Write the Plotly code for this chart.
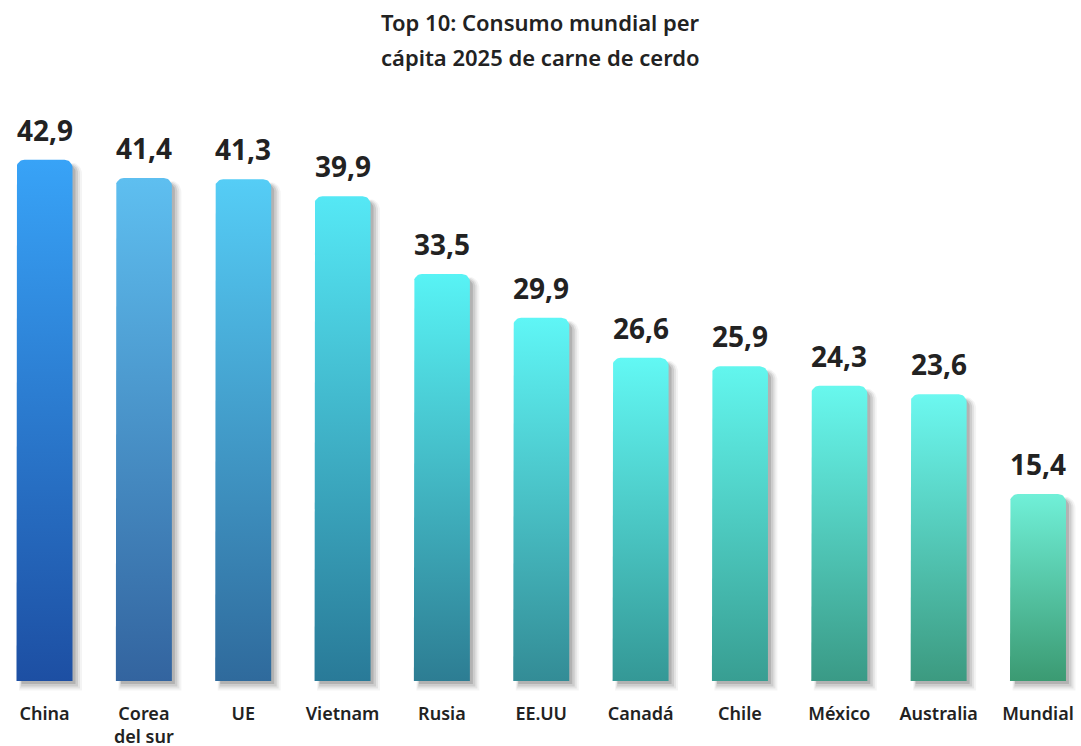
import numpy as np
import plotly.graph_objects as go

categories = ["China", "Corea<br>del sur", "UE", "Vietnam", "Rusia", "EE.UU", "Canadá", "Chile", "México", "Australia", "Mundial"]
values = [42.9, 41.4, 41.3, 39.9, 33.5, 29.9, 26.6, 25.9, 24.3, 23.6, 15.4]
value_labels = ["42,9", "41,4", "41,3", "39,9", "33,5", "29,9", "26,6", "25,9", "24,3", "23,6", "15,4"]
top_colors = ["#38a3f7", "#5ebff0", "#55cdf6", "#55e8f5", "#58f3f5", "#5ff6f6",
              "#62f8f4", "#62f6ee", "#68f8ee", "#6cf8f0", "#70f0d8"]
bottom_colors = ["#1d4fa3", "#33649f", "#2f6a9c", "#297a98", "#2d7d93", "#338c96",
                 "#349896", "#389e92", "#3a9a86", "#3c9a80", "#3b9a72"]

W, H = 1081, 746
M_L, M_R, M_T, M_B = 0, 0, 100, 47
X_RANGE = [-0.448, 10.433]
Y_RANGE = [-1.48, 47.82]
PX_X = (X_RANGE[1] - X_RANGE[0]) / (W - M_L - M_R)
PX_Y = (Y_RANGE[1] - Y_RANGE[0]) / (H - M_T - M_B)
HALF_W = 28 * PX_X
R_PX = 8


def bar_path(xc, v, dx=0.0, dy=0.0, grow=0.0, r_px=R_PX):
    hw = HALF_W + grow * PX_X
    rx, ry = r_px * PX_X, r_px * PX_Y
    x0, x1 = xc - hw + dx, xc + hw + dx
    y0, y1 = 0 - dy - grow * PX_Y, v - dy + grow * PX_Y
    xs, ys = [x0], [y0]
    t = np.linspace(np.pi, np.pi / 2, 10)
    xs += list(x0 + rx + rx * np.cos(t)); ys += list(y1 - ry + ry * np.sin(t))
    t = np.linspace(np.pi / 2, 0, 10)
    xs += list(x1 - rx + rx * np.cos(t)); ys += list(y1 - ry + ry * np.sin(t))
    xs += [x1, x0]; ys += [y0, y0]
    return xs, ys


fig = go.Figure()

# shadows
for i, v in enumerate(values):
    for k, (off, grow, a) in enumerate([(6, 3.5, 0.045), (5.5, 2, 0.065), (5, 0.5, 0.095), (4, -1, 0.13)]):
        xs, ys = bar_path(i, v, dx=off * PX_X, dy=off * PX_Y, grow=grow, r_px=R_PX + grow)
        fig.add_trace(go.Scatter(x=xs, y=ys, mode="lines", fill="toself",
                                 fillcolor=f"rgba(0,0,0,{a})", line=dict(width=0),
                                 hoverinfo="skip", showlegend=False))

# bars
for i, v in enumerate(values):
    xs, ys = bar_path(i, v)
    fig.add_trace(go.Scatter(
        x=xs, y=ys, mode="lines", fill="toself", line=dict(width=0),
        fillgradient=dict(type="vertical", start=0, stop=v,
                          colorscale=[[0, bottom_colors[i]], [1, top_colors[i]]]),
        hoverinfo="skip", showlegend=False))

for i, (v, lab) in enumerate(zip(values, value_labels)):
    fig.add_annotation(x=i, y=v, text=lab, showarrow=False, yanchor="bottom", yshift=9,
                       font=dict(family="Noto Sans", size=28, color="#222222", weight="bold"))

fig.add_annotation(xref="paper", yref="paper", x=0.5, y=(H - M_B - 22) / (H - M_T - M_B),
                   text="Top 10: Consumo mundial per", showarrow=False, yanchor="middle",
                   font=dict(family="Noto Sans", size=22, color="#222222", weight=600))
fig.add_annotation(xref="paper", yref="paper", x=0.5, y=(H - M_B - 57) / (H - M_T - M_B),
                   text="cápita 2025 de carne de cerdo", showarrow=False, yanchor="middle",
                   font=dict(family="Noto Sans", size=22, color="#222222", weight=600))

fig.update_layout(
    width=W, height=H,
    margin=dict(l=M_L, r=M_R, t=M_T, b=M_B, autoexpand=False),
    plot_bgcolor="white", paper_bgcolor="white",
    xaxis=dict(range=X_RANGE, tickmode="array", tickvals=list(range(len(categories))),
               ticktext=categories, showgrid=False, zeroline=False, showline=False,
               ticks="", ticklabelstandoff=2, automargin=False,
               tickfont=dict(family="Noto Sans", size=18, color="#222222", weight=600),
               fixedrange=True),
    yaxis=dict(range=Y_RANGE, visible=False, fixedrange=True, automargin=False),
)

fig.write_html("out.html", config={"displayModeBar": False},
               post_script="document.body.style.margin='0';document.body.style.overflow='hidden';")
